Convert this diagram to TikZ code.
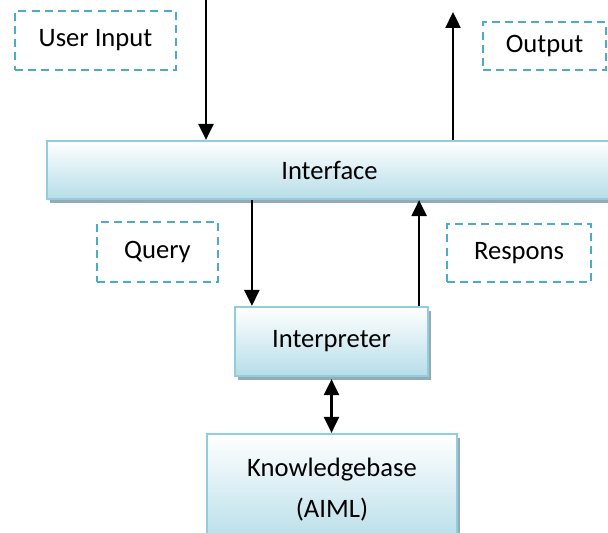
\documentclass[tikz,border=0pt]{standalone}
\usepackage{fontspec}
\setmainfont{Carlito}
\usetikzlibrary{arrows.meta,shadows}
\definecolor{boxline}{RGB}{146,205,221}
\definecolor{boxfill}{RGB}{182,221,232}
\definecolor{shadowc}{RGB}{148,170,180}
\definecolor{dashc}{RGB}{75,172,198}
\begin{document}
\begin{tikzpicture}[
    x=0.5pt, y=-0.5pt,
    module/.style={rectangle, draw=boxline, line width=1.1pt, top color=white, bottom color=boxfill,
        drop shadow={shadow xshift=1.5pt, shadow yshift=-2pt, fill=shadowc, opacity=1},
        font=\fontsize{13.3}{20.5}\selectfont, align=center, inner sep=0pt},
    note/.style={rectangle, draw=dashc, line width=1.2pt, dash pattern=on 4pt off 2.6pt,
        font=\fontsize{13.3}{16}\selectfont, inner sep=0pt},
    arr/.style={-{Triangle[length=8pt,width=7.5pt]}, line width=1.2pt},
    both/.style={{Triangle[length=8pt,width=7.5pt]}-{Triangle[length=8pt,width=7.5pt]}, line width=1.2pt}
]
\clip (0,0) rectangle (608,533);

% Modules
\node[module, minimum width=282.5pt, minimum height=29pt] (interface) at (329.5,170) {Interface};
\node[module, minimum width=96.5pt, minimum height=34.5pt] (interpreter) at (331.5,341.5) {Interpreter};
\node[module, minimum width=125pt, minimum height=55.5pt] (kb) at (332,489.5) {Knowledgebase\\(AIML)};

% Notes
\node[note, minimum width=80.5pt, minimum height=29.5pt] (userinput) at (95.5,40.5) {User Input};
\node[note, minimum width=61.5pt, minimum height=24pt] (output) at (544.5,46) {Output};
\node[note, minimum width=60.5pt, minimum height=30pt] (query) at (157.5,252) {Query};
\node[note, minimum width=72pt, minimum height=29pt] (respons) at (519,253) {Respons};

% Connections
\coordinate (in) at (206,0);
\coordinate (out) at (453,12);
\draw[arr] (in) -- (in |- interface.north);
\draw[arr] (out |- interface.north) -- (out);
\draw[arr] ([xshift=9pt]interpreter.north west |- interface.south) -- ([xshift=9pt]interpreter.north west);
\draw[arr] ([xshift=-5pt]interpreter.north east) -- ([xshift=-5pt]interpreter.north east |- interface.south);
\draw[both] ([yshift=-1pt]interpreter.south) -- (interpreter.south |- kb.north);

\end{tikzpicture}
\end{document}
